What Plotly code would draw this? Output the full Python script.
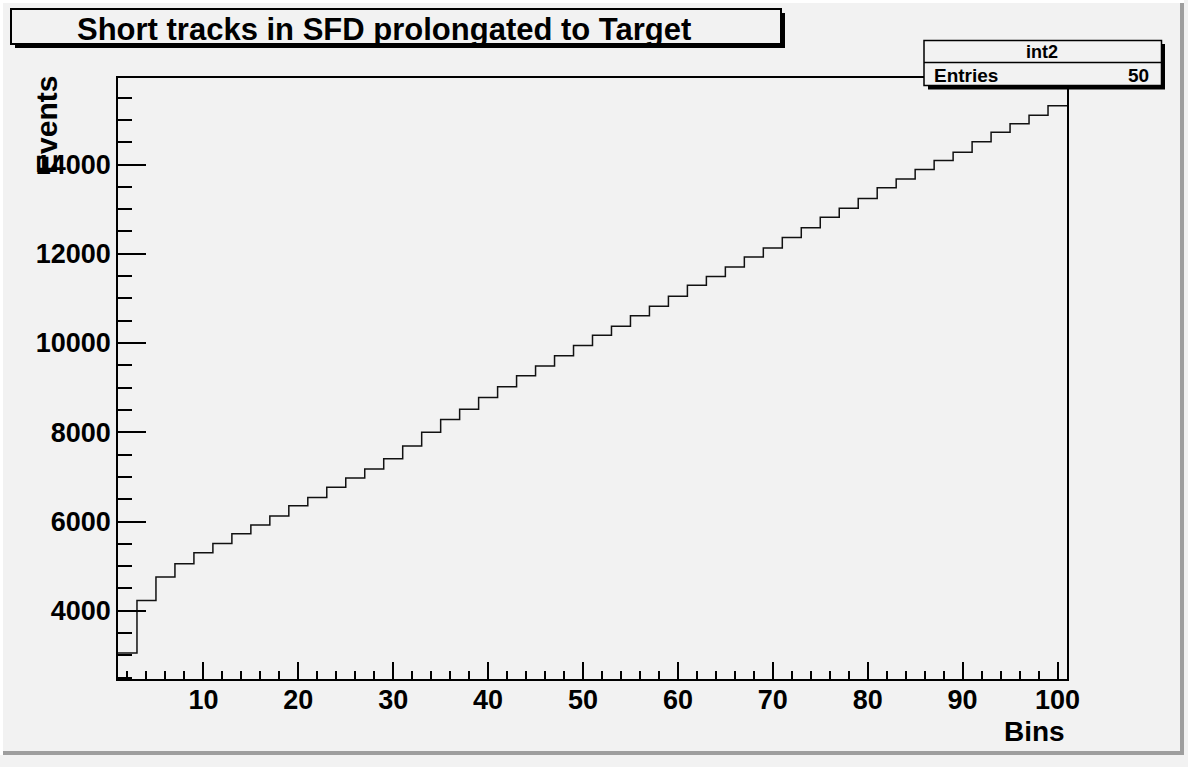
import numpy as np
import plotly.graph_objects as go

# ---- data ----
bin_low = 1.0
bin_width = 2.0
counts = [3052, 4231, 4756, 5054, 5300, 5509, 5726, 5922, 6123, 6354,
          6540, 6765, 6975, 7177, 7408, 7693, 7998, 8287, 8518, 8780,
          9018, 9269, 9487, 9717, 9942, 10173, 10374, 10614, 10823, 11047,
          11294, 11489, 11706, 11930, 12132, 12363, 12583, 12818, 13018, 13238,
          13478, 13679, 13888, 14090, 14276, 14509, 14724, 14912, 15105, 15316]
x_tickvals = [10, 20, 30, 40, 50, 60, 70, 80, 90, 100]
y_tickvals = [4000, 6000, 8000, 10000, 12000, 14000]
y_ticktext = ["4000", "6000", "8000", "10000", "12000", "14000"]
title_text = "Short tracks in SFD prolongated to Target"
x_title = "Bins"
y_title = "Events"
stats_name = "int2"
stats_entries = len(counts)

edges = bin_low + bin_width * np.arange(len(counts) + 1)
step_y = list(counts) + [counts[-1]]

# ---- geometry (pixels) ----
WIDTH, HEIGHT = 1188, 767
L, R, T, B = 118, 1067, 78, 679
PW, PH = R - L, B - T
BG = "#f2f2f2"
FONT = "Liberation Sans"


def fx(px):
    return (px - L) / PW


def fy(py):
    return (B - py) / PH


fig = go.Figure()
fig.add_trace(go.Scatter(x=edges, y=step_y, mode="lines", line_shape="hv",
                         line=dict(color="#111111", width=1.5),
                         hoverinfo="skip", showlegend=False))

shapes = []
# canvas bevel
shapes.append(dict(type="rect", xref="paper", yref="paper", x0=fx(0), x1=fx(1184), y0=fy(0), y1=fy(3),
                   fillcolor="white", line_width=0, layer="below"))
shapes.append(dict(type="rect", xref="paper", yref="paper", x0=fx(0), x1=fx(3), y0=fy(0), y1=fy(755),
                   fillcolor="white", line_width=0, layer="below"))
shapes.append(dict(type="rect", xref="paper", yref="paper", x0=fx(3), x1=fx(1184), y0=fy(751), y1=fy(755),
                   fillcolor="#9e9e9e", line_width=0, layer="below"))
shapes.append(dict(type="rect", xref="paper", yref="paper", x0=fx(1180), x1=fx(1184), y0=fy(3), y1=fy(755),
                   fillcolor="#9e9e9e", line_width=0, layer="below"))
# title box with shadow
shapes.append(dict(type="rect", xref="paper", yref="paper", x0=fx(15), x1=fx(785), y0=fy(13), y1=fy(48),
                   fillcolor="black", line_width=0, layer="above"))
shapes.append(dict(type="rect", xref="paper", yref="paper", x0=fx(11), x1=fx(781), y0=fy(9), y1=fy(44),
                   fillcolor=BG, line=dict(color="black", width=2), layer="above"))
# stats box with shadow
shapes.append(dict(type="rect", xref="paper", yref="paper", x0=fx(928), x1=fx(1165), y0=fy(44), y1=fy(89.5),
                   fillcolor="black", line_width=0, layer="above"))
shapes.append(dict(type="rect", xref="paper", yref="paper", x0=fx(924), x1=fx(1161.5), y0=fy(40.5), y1=fy(85.5),
                   fillcolor=BG, line=dict(color="black", width=1.5), layer="above"))
shapes.append(dict(type="line", xref="paper", yref="paper", x0=fx(924), x1=fx(1161.5), y0=fy(62.5), y1=fy(62.5),
                   line=dict(color="black", width=1.5), layer="above"))

annotations = [
    dict(text="<b>%s</b>" % title_text, xref="paper", yref="paper", x=fx(384), y=fy(29),
         xanchor="center", yanchor="middle", showarrow=False,
         font=dict(family=FONT, size=31, color="black")),
    dict(text="<b>%s</b>" % stats_name, xref="paper", yref="paper", x=fx(1042), y=fy(64),
         xanchor="center", yanchor="bottom", showarrow=False,
         font=dict(family=FONT, size=18, color="black")),
    dict(text="<b>Entries</b>", xref="paper", yref="paper", x=fx(932), y=fy(88.5),
         xanchor="left", yanchor="bottom", showarrow=False,
         font=dict(family=FONT, size=19, color="black")),
    dict(text="<b>%d</b>" % stats_entries, xref="paper", yref="paper", x=fx(1151), y=fy(88.5),
         xanchor="right", yanchor="bottom", showarrow=False,
         font=dict(family=FONT, size=19, color="black")),
    dict(text="<b>%s</b>" % x_title, xref="paper", yref="paper", x=fx(1067), y=fy(731),
         xanchor="right", yanchor="middle", showarrow=False,
         font=dict(family=FONT, size=28, color="black")),
    dict(text="<b>%s</b>" % y_title, xref="paper", yref="paper", x=fx(46), y=fy(74),
         xanchor="center", yanchor="top", textangle=-90, showarrow=False,
         font=dict(family=FONT, size=30, color="black")),
]

axis_common = dict(showgrid=False, zeroline=False, showline=True, mirror=True,
                   linecolor="black", linewidth=1.5, ticks="inside",
                   tickcolor="black", tickwidth=1.5,
                   tickfont=dict(family=FONT, size=27, color="black", weight="bold"))

fig.update_layout(
    width=WIDTH, height=HEIGHT,
    margin=dict(l=L, r=WIDTH - R, t=T, b=HEIGHT - B, pad=0),
    paper_bgcolor=BG, plot_bgcolor=BG,
    shapes=shapes, annotations=annotations, showlegend=False,
    xaxis=dict(range=[edges[0], edges[-1]], tickvals=x_tickvals, ticklen=17,
               ticklabelstandoff=-4,
               minor=dict(dtick=2, tick0=0, ticklen=8, ticks="inside", tickcolor="black", tickwidth=1.5),
               **axis_common),
    yaxis=dict(range=[2470, 15940], tickvals=y_tickvals, ticktext=y_ticktext, ticklen=28,
               minor=dict(dtick=500, tick0=0, ticklen=14, ticks="inside", tickcolor="black", tickwidth=1.5),
               **axis_common),
)

fig.write_html("out.html")
